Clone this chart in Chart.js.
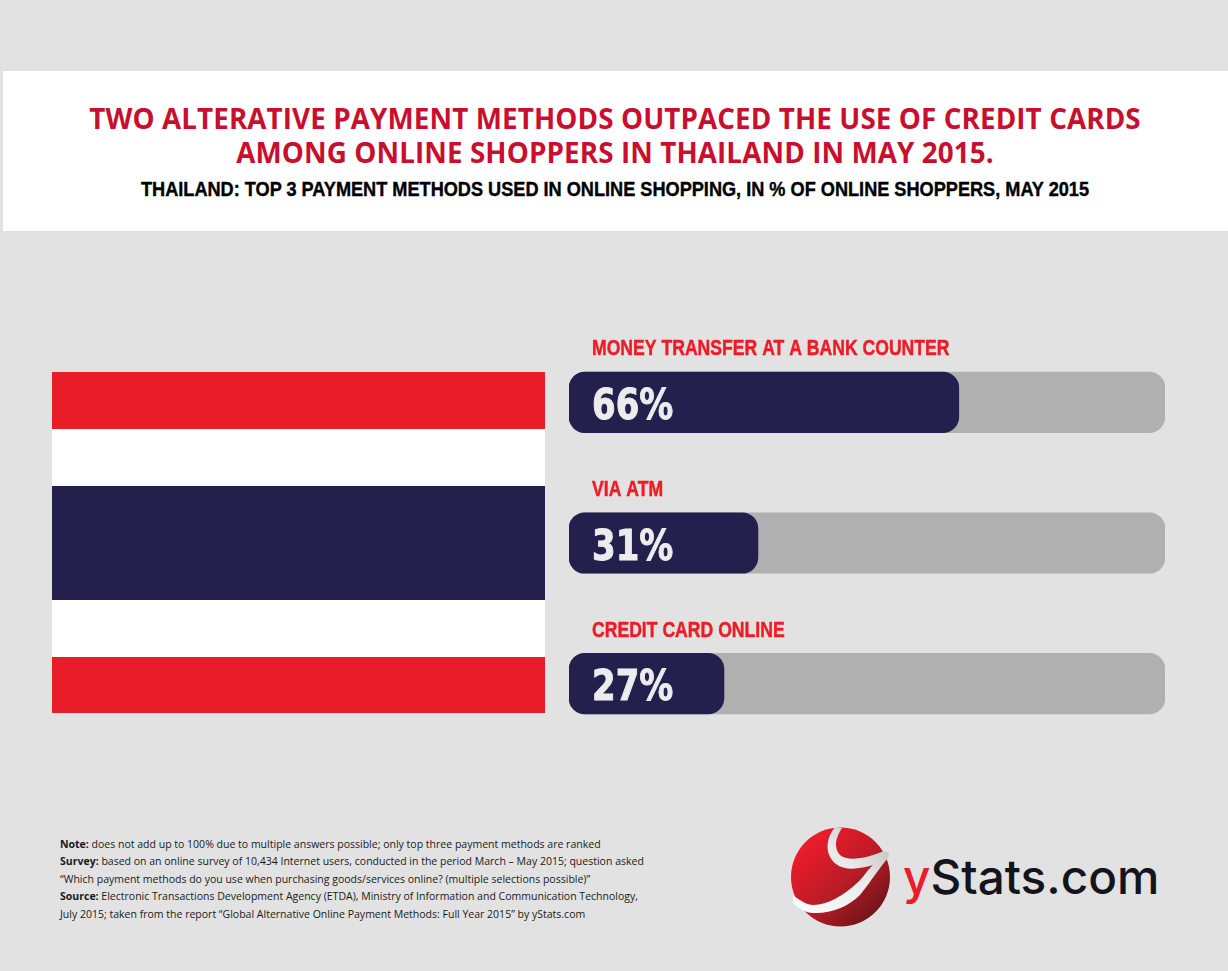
<!DOCTYPE html>
<html>
<head>
<meta charset="utf-8">
<title>Thailand payment methods</title>
<script src="https://cdn.jsdelivr.net/npm/chart.js@4"></script>
<style>
    html, body { margin: 0; padding: 0; }
    body { width: 1228px; height: 971px; background: #e2e2e2; position: relative; overflow: hidden; font-family: "Open Sans", sans-serif; }
    .abs { position: absolute; white-space: nowrap; }
    #band { left: 3px; top: 71px; width: 1225px; height: 160px; background: #fff; }
    .title { left: 0; width: 1230px; text-align: center; color: #c8102e; font-weight: 700; font-size: 27.8px; line-height: 33px; letter-spacing: 0.1px; }
    #sub { left: 1px; width: 1228px; top: 177px; text-align: center; color: #000; font-family: "Liberation Sans", sans-serif; font-weight: 700; font-size: 21px; line-height: 24px; transform: scaleX(0.864); -webkit-text-stroke: 0.4px #000; }
    .stripe { left: 52px; width: 493px; }
    #chart { position: absolute; left: 569px; top: 332px; }
    #notes { left: 60px; top: 836px; font-size: 10.52px; line-height: 17.4px; color: #1a1a1a; }
    #logoText { left: 903px; top: 847px; font-family: Inter, sans-serif; font-size: 47.7px; line-height: 60px; color: #14141c; font-weight: 500; letter-spacing: 0; }
    #logoText span { color: #e91c2a; }
</style>
</head>
<body>
<div class="abs" id="band"></div>
<div class="abs title" style="top:102px">TWO ALTERATIVE PAYMENT METHODS OUTPACED THE USE OF CREDIT CARDS</div>
<div class="abs title" style="top:136px">AMONG ONLINE SHOPPERS IN THAILAND IN MAY 2015.</div>
<div class="abs" id="sub">THAILAND: TOP 3 PAYMENT METHODS USED IN ONLINE SHOPPING, IN % OF ONLINE SHOPPERS, MAY 2015</div>

<div class="abs stripe" style="top:372px;height:57px;background:#e91c2a"></div>
<div class="abs stripe" style="top:429px;height:57px;background:#fff"></div>
<div class="abs stripe" style="top:486px;height:114px;background:#24204d"></div>
<div class="abs stripe" style="top:600px;height:57px;background:#fff"></div>
<div class="abs stripe" style="top:657px;height:56px;background:#e91c2a"></div>

<canvas id="chart" width="596" height="422" style="width:596px;height:422px"></canvas>

<div class="abs" id="notes">
<b>Note:</b> does not add up to 100% due to multiple answers possible; only top three payment methods are ranked<br>
<b>Survey:</b> based on an online survey of 10,434 Internet users, conducted in the period March – May 2015; question asked<br>
“Which payment methods do you use when purchasing goods/services online? (multiple selections possible)”<br>
<b>Source:</b> Electronic Transactions Development Agency (ETDA), Ministry of Information and Communication Technology,<br>
July 2015; taken from the report “Global Alternative Online Payment Methods: Full Year 2015” by yStats.com
</div>

<svg class="abs" style="left:780px;top:815px" width="120" height="125" viewBox="0 0 120 125">
    <defs>
        <linearGradient id="ball" x1="0.15" y1="0.15" x2="0.85" y2="0.9">
            <stop offset="0" stop-color="#ee1c2b"/>
            <stop offset="0.55" stop-color="#b81c26"/>
            <stop offset="1" stop-color="#6e1419"/>
        </linearGradient>
        <linearGradient id="swoosh" x1="0" y1="1" x2="1" y2="0">
            <stop offset="0" stop-color="#ffffff"/>
            <stop offset="0.6" stop-color="#e8e8e8"/>
            <stop offset="1" stop-color="#b4b4b4"/>
        </linearGradient>
    </defs>
    <circle cx="60.5" cy="62" r="49.5" fill="url(#ball)"/>
    <path d="M55 12 L62 13 C56 22 53 32 60 40 C68 47 88 43 104 36 L109 38 L108 43 C100 52 92 65 80 80 C68 92 50 99 33 98 C26 98 18 93 13 88 L13 80 C20 86 28 90 33 90 C48 90 64 80 77 68 C84 62 88 54 93 50 C80 54 65 56 56 49 C46 41 44 26 55 12 Z" fill="url(#swoosh)"/>
</svg>
<div class="abs" id="logoText"><span>y</span>Stats.com</div>

<script>
// values
const categories = ['MONEY TRANSFER AT A BANK COUNTER', 'VIA ATM', 'CREDIT CARD ONLINE'];
const shareLabels = ['66%', '31%', '27%'];
// drawn bar lengths are not quite the printed numbers in the original
const barLengths = [65.4, 31.7, 26];
const fullBar = [100, 100, 100];

// no condensed font available so squeeze the text horizontally
function squeezedText(ctx, text, x, y, squeeze, weight) {
    ctx.save();
    ctx.translate(x, y);
    ctx.scale(squeeze, 1);
    ctx.fillText(text, 0, 0);
    ctx.lineWidth = weight;
    ctx.strokeText(text, 0, 0);
    ctx.restore();
}

const barLabels = {
    id: 'barLabels',
    afterDatasetsDraw(chart) {
        const ctx = chart.ctx;
        const meta = chart.getDatasetMeta(0);
        ctx.save();
        ctx.textBaseline = 'alphabetic';
        meta.data.forEach((bar, i) => {
            const left = chart.scales.x.getPixelForValue(0) + 23;
            ctx.fillStyle = ctx.strokeStyle = '#ed1c24';
            ctx.font = 'bold 22px "Liberation Sans", sans-serif';
            squeezedText(ctx, categories[i], left, bar.y - 47, 0.8, 0.5);
            ctx.fillStyle = ctx.strokeStyle = '#ececec';
            ctx.font = 'bold 43px "DejaVu Sans", sans-serif';
            squeezedText(ctx, shareLabels[i], left, bar.y + 16.5, 0.79, 1);
        });
        ctx.restore();
    }
};

new Chart(document.getElementById('chart').getContext('2d'), {
    type: 'bar',
    data: {
        labels: categories,
        datasets: [
            { label: 'Share of online shoppers', data: barLengths, backgroundColor: '#24204d', borderRadius: 16, borderSkipped: false, barThickness: 60.5 },
            { label: 'Total', data: fullBar, backgroundColor: '#b0b0b0', borderRadius: 16, borderSkipped: false, barThickness: 60.5 }
        ]
    },
    options: {
        indexAxis: 'y',
        responsive: false,
        animation: false,
        devicePixelRatio: 1,
        layout: { padding: 0 },
        plugins: { legend: { display: false }, tooltip: { enabled: false }, title: { display: false } },
        scales: {
            x: { display: false, min: 0, max: 100 },
            y: { display: false, stacked: true }
        }
    },
    plugins: [barLabels]
});
</script>
</body>
</html>
